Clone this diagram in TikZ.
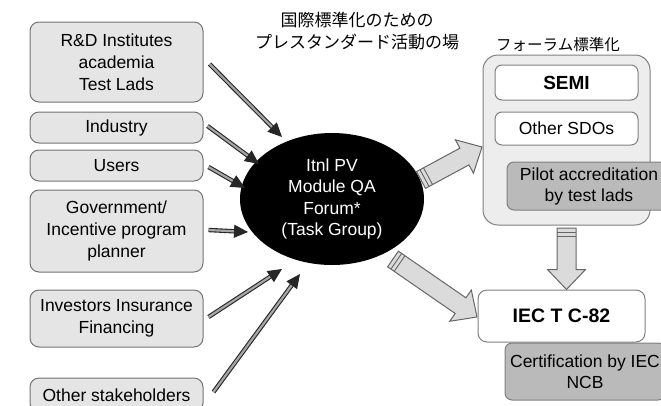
\documentclass[tikz,border=0pt]{standalone}
\usepackage{fontspec}
\setmainfont{Liberation Sans}
\newfontfamily\jpfont{Noto Sans CJK JP}
\usetikzlibrary{shapes.geometric,arrows.meta,calc}

\tikzset{
	party/.style={draw=black!55, fill=black!10, rounded corners=9pt, line width=1pt,
		minimum width=173pt, inner sep=0pt, align=center, font=\fontsize{17.5}{22}\selectfont},
	sdo/.style={draw=black!50, fill=white, rounded corners=7pt, line width=1pt,
		inner sep=0pt, align=center, font=\fontsize{17.5}{21}\selectfont},
	accr/.style={sdo, fill=black!27},
	feed/.style={draw=black!85, double=black!35, double distance=2.2pt, line width=1.1pt,
		-{Triangle[length=14pt,width=13pt]}},
	blockarrow/.style={draw=black!60, fill=black!14, line width=1pt, line join=miter},
	stripe/.style={draw=black!60, line width=0.9pt}
}

% tail, tip
\newcommand{\blockarrow}[2]{%
	\coordinate (ba-hb) at ($(#2)!20pt!(#1)$);
	\draw[blockarrow] ($(#1)!9.5pt!90:(#2)$) -- ($(ba-hb)!9.5pt!90:(#2)$) -- ($(ba-hb)!19pt!90:(#2)$)
		-- (#2) -- ($(ba-hb)!19pt!-90:(#2)$) -- ($(ba-hb)!9.5pt!-90:(#2)$) -- ($(#1)!9.5pt!-90:(#2)$) -- cycle;
	\foreach \d in {4pt,8pt} {
		\coordinate (ba-s) at ($(#1)!\d!(#2)$);
		\draw[stripe] ($(ba-s)!9.5pt!90:(#2)$) -- ($(ba-s)!9.5pt!-90:(#2)$);
	}
}

\begin{document}
\begin{tikzpicture}[x=1pt,y=-1pt]
	\clip (0,0) rectangle (661,405);

	% stakeholders
	\node[party, minimum height=80pt] (rd)  at (116.5,62)  {R\&D Institutes\\academia\\Test Lads};
	\node[party, minimum height=31pt] (ind) at (116.5,127.5) {Industry};
	\node[party, minimum height=31pt] (usr) at (116.5,165.5) {Users};
	\node[party, minimum height=82pt] (gov) at (116.5,231) {Government/\\Incentive program\\planner};
	\node[party, minimum height=57pt] (inv) at (116.5,318.5) {Investors Insurance\\Financing};
	\node[party, minimum height=34pt] (oth) at (116.5,395) {Other stakeholders};

	\node[ellipse, fill=black, text=white, minimum width=184pt, minimum height=132pt, inner sep=0pt,
		align=center, font=\fontsize{17.5}{21.5}\selectfont] (forum) at (332,199)
		{Itnl PV\\Module QA\\Forum*\\(Task Group)};

	\node[align=center, font=\jpfont\fontsize{17}{22}\selectfont] (title) at (357,31)
		{国際標準化のための\\プレスタンダード活動の場};

	% forum standardisation
	\node[draw=black!50, fill=black!7, rounded corners=15pt, line width=1pt,
		minimum width=167pt, minimum height=170pt] (fstd) at (566.5,140) {};
	\node[font=\jpfont\fontsize{15.5}{18}\selectfont] (fstdlabel) at (558,45) {フォーラム標準化};
	\node[sdo, minimum width=143pt, minimum height=35pt, font=\bfseries\fontsize{19}{22}\selectfont] (semi) at (566.5,82.5) {SEMI};
	\node[sdo, minimum width=143pt, minimum height=33pt] (sdos) at (566.5,128.5) {Other SDOs};
	\node[accr, minimum width=164pt, minimum height=48pt] (pilot) at (589,186) {Pilot accreditation\\by test lads};

	\node[sdo, minimum width=167pt, minimum height=52pt, rounded corners=9pt,
		font=\bfseries\fontsize{19.5}{22}\selectfont] (iec) at (561.5,316) {IEC T C-82};
	\node[accr, minimum width=160pt, minimum height=57pt] (cert) at (585,371.5) {Certification by IEC\\NCB};

	% inputs to the forum
	\coordinate (t-rd)  at (282,137);
	\coordinate (t-ind) at (259,164);
	\coordinate (t-usr) at (245,188);
	\coordinate (t-gov) at (248,232);
	\coordinate (t-inv) at (282,269);
	\coordinate (t-oth) at (300,274);
	\draw[feed] ([xshift=6pt,yshift=-2pt]rd.east) -- (t-rd);
	\draw[feed] ([xshift=4pt,yshift=1.5pt]ind.east) -- (t-ind);
	\draw[feed] ([xshift=5pt,yshift=-1.5pt]usr.east) -- (t-usr);
	\draw[feed] ([xshift=5pt,yshift=1pt]gov.east) -- (t-gov);
	\draw[feed] ([xshift=5pt,yshift=1.5pt]inv.east) -- (t-inv);
	\draw[feed] ([xshift=10pt,yshift=3pt]oth.east) -- (t-oth);

	% outputs
	\coordinate (a1) at (421,180);
	\coordinate (b1) at (482,147);
	\coordinate (a2) at (393,259);
	\coordinate (b2) at (477,317);
	\coordinate (a3) at (fstd.south |- 0,228);
	\coordinate (b3) at (fstd.south |- iec.north);
	\blockarrow{a1}{b1}
	\blockarrow{a2}{b2}
	\blockarrow{a3}{b3}
\end{tikzpicture}
\end{document}
